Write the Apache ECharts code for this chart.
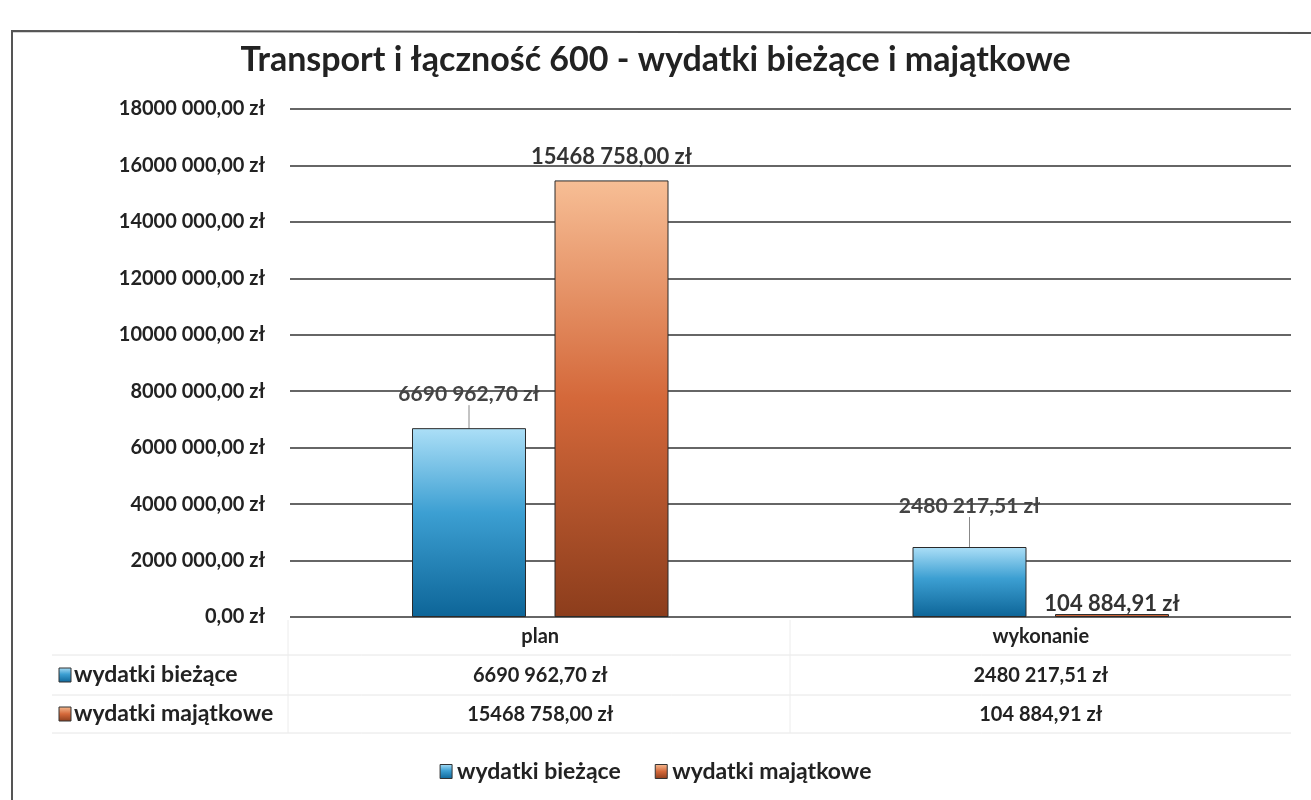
<!DOCTYPE html>
<html>
<head>
<meta charset="utf-8">
<script src="https://cdn.jsdelivr.net/npm/echarts@6/dist/echarts.min.js"></script>
<style>
  html, body { margin: 0; padding: 0; background: #fff; }
  #chart { width: 1311px; height: 800px; }
</style>
</head>
<body>
<div id="chart"></div>
<script>
// dane
const categories = ['plan', 'wykonanie'];
const seriesNames = ['wydatki bieżące', 'wydatki majątkowe'];
const biezace = [6690962.70, 2480217.51];
const majatkowe = [15468758.00, 104884.91];
const yTicks = { min: 0, max: 18000000, step: 2000000 };

const FONT = 'Lato';

// format "6690 962,70 zł" (tylko ostatnia grupa tysięcy oddzielona)
function zl(v) {
    let parts = v.toFixed(2).split('.');
    let i = parts[0];
    if (i.length > 3) {
        i = i.slice(0, i.length - 3) + ' ' + i.slice(i.length - 3);
    }
    return i + ',' + parts[1] + ' zł';
}

const blueGrad = new echarts.graphic.LinearGradient(0, 0, 0, 1, [
    { offset: 0, color: '#acdff7' },
    { offset: 0.45, color: '#3c9fd2' },
    { offset: 1, color: '#0d6598' }
]);
const orangeGrad = new echarts.graphic.LinearGradient(0, 0, 0, 1, [
    { offset: 0, color: '#f7be95' },
    { offset: 0.5, color: '#d4683a' },
    { offset: 1, color: '#8c3d1c' }
]);

// przesunięcia etykiet nad słupkami
const blueDy = [-18, -25];
const orangeDy = [-8, 6];

let chart = echarts.init(document.getElementById('chart'));

let graphics = [
    {
        type: 'polyline',
        shape: { points: [[12, 800], [12, 31], [1311, 33]] },
        style: { stroke: '#555', lineWidth: 2, fill: null }
    }
];
// linie tabeli danych
[655, 695, 733].forEach(y => {
    graphics.push({
        type: 'line', shape: { x1: 52, y1: y, x2: 1291, y2: y },
        style: { stroke: '#e6e6e6', lineWidth: 1 }
    });
});
[[288, 620], [790, 620]].forEach(p => {
    graphics.push({
        type: 'line', shape: { x1: p[0], y1: p[1], x2: p[0], y2: 733 },
        style: { stroke: '#ececec', lineWidth: 1 }
    });
});
// nagłówki wierszy tabeli
const rowColors = [blueGrad, orangeGrad];
seriesNames.forEach((name, k) => {
    let y = 675 + k * 39;
    graphics.push({
        type: 'rect', shape: { x: 59, y: y - 7, width: 12, height: 14 },
        style: { fill: rowColors[k], stroke: '#333', lineWidth: 1 }
    });
    graphics.push({
        type: 'text', x: 74, y: y,
        style: { text: name, font: 'bold 23px ' + FONT, fill: '#222', textVerticalAlign: 'middle' }
    });
});

let option = {
    animation: false,
    backgroundColor: '#fff',
    title: {
        text: 'Transport i łączność 600 - wydatki bieżące i majątkowe',
        left: 'center',
        top: 38,
        textStyle: { fontFamily: FONT, fontSize: 34, fontWeight: 'bold', color: '#222' }
    },
    legend: {
        data: seriesNames,
        left: 'center',
        top: 755,
        icon: 'rect',
        itemWidth: 12,
        itemHeight: 14,
        itemGap: 34,
        textStyle: { fontFamily: FONT, fontSize: 23, fontWeight: 'bold', color: '#222' },
        itemStyle: { borderColor: '#333', borderWidth: 1 }
    },
    grid: { left: 290, right: 20, top: 109, bottom: 183 },
    xAxis: {
        type: 'category',
        data: categories,
        axisLine: { show: false },
        axisTick: { show: false },
        axisLabel: {
            margin: 0,
            interval: 0,
            fontFamily: FONT,
            fontSize: 20,
            fontWeight: 'bold',
            color: '#222',
            lineHeight: 39,
            formatter: function (value, idx) {
                return value + '\n' + zl(biezace[idx]) + '\n' + zl(majatkowe[idx]);
            }
        }
    },
    yAxis: {
        type: 'value',
        min: yTicks.min,
        max: yTicks.max,
        interval: yTicks.step,
        axisLine: { show: false },
        axisTick: { show: false },
        splitLine: { lineStyle: { color: '#333', width: 1.5 } },
        axisLabel: {
            margin: 25,
            fontFamily: FONT,
            fontSize: 20,
            fontWeight: 'bold',
            color: '#222',
            formatter: v => zl(v)
        }
    },
    series: [
        {
            name: seriesNames[0],
            type: 'bar',
            data: biezace,
            barWidth: 114,
            barGap: '25%',
            itemStyle: { color: blueGrad, borderColor: '#2a2a2a', borderWidth: 1 },
            label: {
                show: true,
                position: 'top',
                distance: 5,
                fontFamily: FONT,
                fontSize: 21,
                fontWeight: 'bold',
                color: '#444',
                formatter: p => zl(p.value)
            },
            labelLine: { show: true, lineStyle: { color: '#888', width: 1 } },
            labelLayout: p => ({ dy: blueDy[p.dataIndex] })
        },
        {
            name: seriesNames[1],
            type: 'bar',
            data: majatkowe,
            barWidth: 114,
            itemStyle: { color: orangeGrad, borderColor: '#2a2a2a', borderWidth: 1 },
            label: {
                show: true,
                position: 'top',
                distance: 5,
                fontFamily: FONT,
                fontSize: 22,
                fontWeight: 'bold',
                color: '#333',
                formatter: p => zl(p.value)
            },
            labelLayout: p => ({ dy: orangeDy[p.dataIndex] })
        }
    ],
    graphic: graphics
};

chart.setOption(option, true);
</script>
</body>
</html>
